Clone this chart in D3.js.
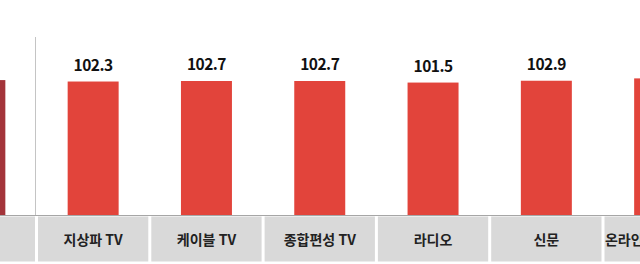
<!DOCTYPE html>
<html>
<head>
<meta charset="utf-8">
<script src="https://cdn.jsdelivr.net/npm/d3@7"></script>
<style>
  html, body { margin: 0; padding: 0; background: #fff; }
  svg { display: block; }
</style>
</head>
<body>
<div id="chart"></div>
<script>
const width = 640
const height = 264

const categories = ["전체", "지상파 TV", "케이블 TV", "종합편성 TV", "라디오", "신문", "온라인 뉴스 서비스"]
const values = [103.4, 102.3, 102.7, 102.7, 101.5, 102.9, 104.7]
const valueLabels = ["103.4", "102.3", "102.7", "102.7", "101.5", "102.9", "104.7"]

const red = "#e2443b"
const darkRed = "#a3343a"
const boxGrey = "#d9d9d9"
const lineGrey = "#a6a6a6"
const font = "'Noto Sans CJK KR', 'Noto Sans', sans-serif"

const step = 113.3
const left = 36.5 - step   // first (total) column is cut off on the left
const baseY = 215

const svg = d3.select("#chart")
  .append("svg")
  .attr("width", width)
  .attr("height", height)

const x = d3.scaleBand()
  .domain(categories)
  .range([left, left + step * categories.length])
  .padding(0)

const y = d3.scaleLinear()
  .domain([0, 105])
  .range([baseY, 78])

const barW = x.bandwidth() * 0.45
const cx = d => x(d) + x.bandwidth() / 2

// bars
svg.selectAll("rect.bar")
  .data(categories)
  .join("rect")
    .attr("class", "bar")
    .attr("x", d => cx(d) - barW / 2)
    .attr("width", barW)
    .attr("y", (d, i) => y(values[i]))
    .attr("height", (d, i) => baseY - y(values[i]))
    .attr("fill", (d, i) => i === 0 ? darkRed : red)

// value labels
svg.selectAll("text.val")
  .data(categories)
  .join("text")
    .attr("class", "val")
    .attr("x", cx)
    .attr("y", (d, i) => y(values[i]) - 11)
    .attr("text-anchor", "middle")
    .attr("font-family", font)
    .attr("font-weight", "bold")
    .attr("font-size", 15.5)
    .attr("letter-spacing", -0.5)
    .attr("fill", "#111")
    .text((d, i) => valueLabels[i])

// separator after the total column
svg.append("line")
  .attr("x1", x(categories[1]) - 1).attr("x2", x(categories[1]) - 1)
  .attr("y1", 37).attr("y2", baseY)
  .attr("stroke", "#c4c4c4")
  .attr("stroke-width", 1)

// category boxes
svg.selectAll("rect.box")
  .data(categories)
  .join("rect")
    .attr("class", "box")
    .attr("x", d => x(d) + 1.5)
    .attr("width", x.bandwidth() - 3)
    .attr("y", baseY + 1.5)
    .attr("height", 45)
    .attr("fill", boxGrey)

svg.selectAll("text.cat")
  .data(categories)
  .join("text")
    .attr("class", "cat")
    .attr("x", cx)
    .attr("y", 244.5)
    .attr("text-anchor", "middle")
    .attr("font-family", font)
    .attr("font-weight", "bold")
    .attr("font-size", 14)
    .attr("fill", "#222")
    .text(d => d)

// baseline
svg.append("line")
  .attr("x1", 0).attr("x2", width)
  .attr("y1", baseY + 0.5).attr("y2", baseY + 0.5)
  .attr("stroke", lineGrey)
  .attr("stroke-width", 1)
</script>
</body>
</html>
